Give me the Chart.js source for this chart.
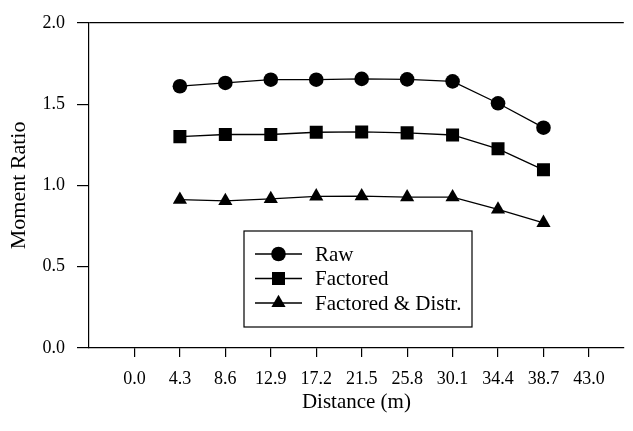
<!DOCTYPE html>
<html>
<head>
<meta charset="utf-8">
<script src="https://cdn.jsdelivr.net/npm/chart.js@4.4.1/dist/chart.umd.min.js"></script>
<style>
  html, body { margin: 0; padding: 0; background: #ffffff; }
  #wrap { width: 633px; height: 431px; position: relative; }
</style>
</head>
<body>
<div id="wrap"><canvas id="c" width="633" height="431"></canvas></div>
<script>
// ---- data ----
const distances = [4.3, 8.6, 12.9, 17.2, 21.5, 25.8, 30.1, 34.4, 38.7];
const xTickValues = [0.0, 4.3, 8.6, 12.9, 17.2, 21.5, 25.8, 30.1, 34.4, 38.7, 43.0];
const yTickValues = [0.0, 0.5, 1.0, 1.5, 2.0];
const raw = [1.61, 1.63, 1.65, 1.65, 1.655, 1.652, 1.64, 1.505, 1.355];
const factored = [1.30, 1.313, 1.313, 1.327, 1.329, 1.323, 1.31, 1.225, 1.096];
const factoredDistr = [0.912, 0.905, 0.917, 0.933, 0.934, 0.928, 0.928, 0.852, 0.77];
const seriesNames = ['Raw', 'Factored', 'Factored & Distr.'];

const FONT = '"Liberation Serif", "Times New Roman", serif';

function pts(vals) { return distances.map((d, i) => ({ x: d, y: vals[i] })); }

const styles = [
  { pointStyle: 'circle', pointRadius: 7.3 },
  { pointStyle: 'rect', pointRadius: 9.2 },
  { pointStyle: 'triangle', pointRadius: 8.2 }
];
const seriesValues = [raw, factored, factoredDistr];

const datasets = seriesNames.map((name, i) => ({
  label: name,
  data: pts(seriesValues[i]),
  borderColor: '#000',
  backgroundColor: '#000',
  borderWidth: 1.3,
  pointBackgroundColor: '#000',
  pointBorderColor: '#000',
  pointBorderWidth: 0,
  pointStyle: styles[i].pointStyle,
  pointRadius: styles[i].pointRadius,
  tension: 0,
  fill: false
}));

// legend drawn inside the plot, boxed
const boxLegend = {
  id: 'boxLegend',
  afterDraw(chart, args, opts) {
    const ctx = chart.ctx;
    const b = opts.box;
    ctx.save();
    ctx.strokeStyle = '#000';
    ctx.lineWidth = 1.2;
    ctx.fillStyle = '#fff';
    ctx.fillRect(b.left, b.top, b.right - b.left, b.bottom - b.top);
    ctx.strokeRect(b.left, b.top, b.right - b.left, b.bottom - b.top);
    chart.data.datasets.forEach((ds, i) => {
      const y = opts.firstY + i * opts.rowGap;
      ctx.beginPath();
      ctx.strokeStyle = ds.borderColor;
      ctx.lineWidth = ds.borderWidth;
      ctx.moveTo(opts.lineX0, y);
      ctx.lineTo(opts.lineX1, y);
      ctx.stroke();
      ctx.fillStyle = ds.pointBackgroundColor;
      Chart.helpers.drawPoint(ctx, {
        pointStyle: ds.pointStyle,
        radius: ds.pointRadius,
        borderWidth: 0,
        rotation: 0
      }, (opts.lineX0 + opts.lineX1) / 2, y);
      ctx.fillStyle = '#000';
      ctx.font = '21px ' + FONT;
      ctx.textBaseline = 'middle';
      ctx.textAlign = 'left';
      ctx.fillText(ds.label, opts.textX, y + 1);
    });
    ctx.restore();
  }
};

new Chart(document.getElementById('c'), {
  type: 'line',
  data: { datasets },
  options: {
    responsive: false,
    animation: false,
    devicePixelRatio: 1,
    layout: { padding: { top: 20, right: 0, left: 0, bottom: 0 } },
    plugins: {
      legend: { display: false },
      tooltip: { enabled: false },
      boxLegend: {
        box: { left: 244, top: 231, right: 472, bottom: 327 },
        lineX0: 255, lineX1: 302, textX: 315, firstY: 254, rowGap: 24.5
      }
    },
    scales: {
      x: {
        type: 'linear',
        min: -4.3,
        max: 46.3,
        afterBuildTicks(scale) { scale.ticks = xTickValues.map(v => ({ value: v })); },
        afterFit(scale) { scale.height = 83; },
        border: { display: true, color: '#000', width: 1.2 },
        grid: { drawOnChartArea: false, color: '#000', tickLength: 9, lineWidth: 1.2 },
        ticks: {
          color: '#000',
          font: { family: FONT, size: 18 },
          padding: 11,
          maxRotation: 0,
          autoSkip: false,
          callback: v => Number(v).toFixed(1)
        },
        title: {
          display: true,
          text: 'Distance (m)',
          color: '#000',
          font: { family: FONT, size: 21 },
          padding: { top: 0, bottom: 16 }
        }
      },
      y: {
        type: 'linear',
        min: 0,
        max: 2,
        afterBuildTicks(scale) { scale.ticks = yTickValues.map(v => ({ value: v })); },
        afterFit(scale) { scale.width = 89; },
        border: { display: true, color: '#000', width: 1.2 },
        grid: {
          drawOnChartArea: true,
          color: c => (c.tick && c.tick.value === 2) ? '#000' : 'rgba(0,0,0,0)',
          tickColor: '#000',
          tickLength: 12,
          lineWidth: 1.2
        },
        ticks: {
          color: '#000',
          font: { family: FONT, size: 18 },
          padding: 12,
          callback: v => Number(v).toFixed(1)
        },
        title: {
          display: true,
          text: 'Moment Ratio',
          color: '#000',
          font: { family: FONT, size: 22 },
          padding: { top: 6, bottom: 0 }
        }
      }
    }
  },
  plugins: [boxLegend]
});
</script>
</body>
</html>
